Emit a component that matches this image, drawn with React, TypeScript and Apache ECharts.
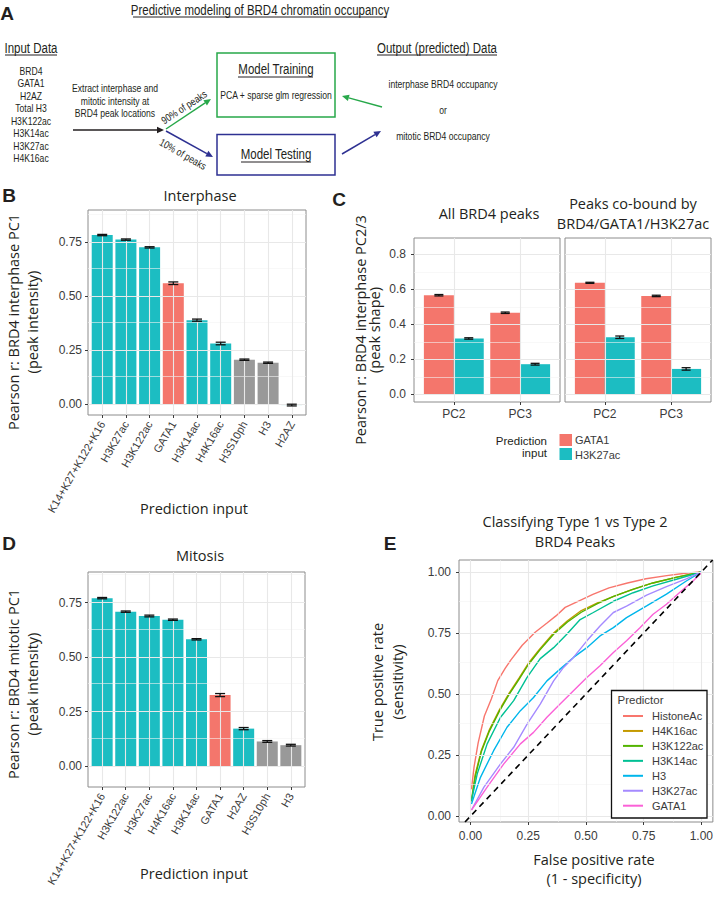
import React, { useEffect, useRef } from 'react';
import * as echarts from 'echarts';

// ---------------- Panel A (schematic) text ----------------
const inputDataList = ['BRD4', 'GATA1', 'H2AZ', 'Total H3', 'H3K122ac', 'H3K14ac', 'H3K27ac', 'H4K16ac'];
const extractLines = ['Extract interphase and', 'mitotic intensity at', 'BRD4 peak locations'];
const outputLines = ['interphase BRD4 occupancy', 'or', 'mitotic BRD4 occupancy'];

// ---------------- Panel B: interphase PC1 ----------------
const interphaseInputs = ['K14+K27+K122+K16', 'H3K27ac', 'H3K122ac', 'GATA1', 'H3K14ac', 'H4K16ac', 'H3S10ph', 'H3', 'H2AZ'];
const interphaseR = [0.782, 0.761, 0.725, 0.559, 0.388, 0.28, 0.205, 0.191, -0.005];
const interphaseErr = [0.003, 0.003, 0.003, 0.006, 0.005, 0.006, 0.003, 0.003, 0.004];
const interphaseClass = ['ac', 'ac', 'ac', 'tf', 'ac', 'ac', 'other', 'other', 'ac'];
const pc1Ticks = [0, 0.25, 0.5, 0.75];
const pc1Minor = [0.125, 0.375, 0.625, 0.875];

// ---------------- Panel C: PC2 / PC3 ----------------
const pcComponents = ['PC2', 'PC3'];
const allPeaksGATA1 = [0.566, 0.466];
const allPeaksGATA1Err = [0.004, 0.004];
const allPeaksH3K27ac = [0.319, 0.172];
const allPeaksH3K27acErr = [0.004, 0.005];
const coBoundGATA1 = [0.637, 0.562];
const coBoundGATA1Err = [0.003, 0.004];
const coBoundH3K27ac = [0.326, 0.145];
const coBoundH3K27acErr = [0.007, 0.007];
const pcTicks = [0, 0.2, 0.4, 0.6, 0.8];
const pcMinor = [0.1, 0.3, 0.5, 0.7];

// ---------------- Panel D: mitotic PC1 ----------------
const mitosisInputs = ['K14+K27+K122+K16', 'H3K122ac', 'H3K27ac', 'H4K16ac', 'H3K14ac', 'GATA1', 'H2AZ', 'H3S10ph', 'H3'];
const mitosisR = [0.771, 0.709, 0.689, 0.672, 0.582, 0.326, 0.172, 0.113, 0.096];
const mitosisErr = [0.003, 0.003, 0.004, 0.003, 0.003, 0.007, 0.005, 0.004, 0.004];
const mitosisClass = ['ac', 'ac', 'ac', 'ac', 'ac', 'tf', 'ac', 'other', 'other'];

// ---------------- Panel E: ROC curves ----------------
const rocHistoneAc = [[0.004, 0.11], [0.015, 0.2], [0.033, 0.3], [0.06, 0.41], [0.09, 0.48], [0.118, 0.555], [0.15, 0.605], [0.175, 0.64], [0.224, 0.7], [0.28, 0.753], [0.33, 0.79], [0.37, 0.82], [0.41, 0.855], [0.475, 0.884], [0.53, 0.908], [0.6, 0.935], [0.68, 0.955], [0.76, 0.972], [0.85, 0.985], [0.93, 0.995], [1, 1]];
const rocH4K16ac = [[0.004, 0.065], [0.02, 0.17], [0.047, 0.27], [0.08, 0.35], [0.125, 0.435], [0.168, 0.505], [0.21, 0.565], [0.25, 0.625], [0.3, 0.685], [0.36, 0.75], [0.42, 0.8], [0.48, 0.842], [0.55, 0.873], [0.62, 0.9], [0.7, 0.928], [0.79, 0.955], [0.89, 0.978], [1, 1]];
const rocH3K122ac = [[0.004, 0.06], [0.02, 0.16], [0.047, 0.265], [0.08, 0.345], [0.125, 0.43], [0.168, 0.5], [0.21, 0.56], [0.25, 0.62], [0.3, 0.68], [0.36, 0.745], [0.42, 0.795], [0.48, 0.835], [0.55, 0.87], [0.62, 0.9], [0.7, 0.928], [0.79, 0.955], [0.89, 0.978], [1, 1]];
const rocH3K14ac = [[0.004, 0.064], [0.029, 0.173], [0.072, 0.296], [0.13, 0.405], [0.187, 0.473], [0.245, 0.568], [0.302, 0.645], [0.36, 0.69], [0.417, 0.745], [0.475, 0.805], [0.532, 0.834], [0.619, 0.88], [0.705, 0.915], [0.791, 0.943], [0.892, 0.97], [1, 1]];
const rocH3 = [[0.004, 0.05], [0.043, 0.159], [0.1, 0.268], [0.158, 0.364], [0.216, 0.432], [0.273, 0.486], [0.331, 0.554], [0.388, 0.602], [0.446, 0.65], [0.504, 0.69], [0.561, 0.738], [0.619, 0.772], [0.676, 0.813], [0.763, 0.861], [0.849, 0.909], [0.935, 0.963], [1, 1]];
const rocH3K27ac = [[0.004, 0.025], [0.058, 0.119], [0.13, 0.214], [0.187, 0.282], [0.245, 0.377], [0.302, 0.459], [0.36, 0.554], [0.403, 0.609], [0.446, 0.65], [0.504, 0.718], [0.561, 0.779], [0.619, 0.834], [0.676, 0.86], [0.763, 0.905], [0.849, 0.94], [0.935, 0.972], [1, 1]];
const rocGATA1 = [[0.004, 0.025], [0.072, 0.119], [0.144, 0.214], [0.216, 0.296], [0.273, 0.343], [0.331, 0.405], [0.388, 0.459], [0.446, 0.514], [0.504, 0.568], [0.561, 0.616], [0.619, 0.67], [0.676, 0.718], [0.734, 0.772], [0.791, 0.827], [0.849, 0.868], [0.906, 0.916], [0.964, 0.963], [1, 0.997]];
const predictorNames = ['HistoneAc', 'H4K16ac', 'H3K122ac', 'H3K14ac', 'H3', 'H3K27ac', 'GATA1'];
const predictorCurves = [rocHistoneAc, rocH4K16ac, rocH3K122ac, rocH3K14ac, rocH3, rocH3K27ac, rocGATA1];
const predictorColors = ['#F8766D', '#C49A00', '#53B400', '#00C094', '#00B6EB', '#A58AFF', '#FB61D7'];
const rocTicks = [0, 0.25, 0.5, 0.75, 1];
const rocMinor = [0.125, 0.375, 0.625, 0.875];

// ---------------- styles ----------------
const TEAL = '#1CBDC2';
const RED = '#F4766C';
const GREY = '#999999';
const CLASS_COLOR: Record<string, string> = { ac: TEAL, tf: RED, other: GREY };
const GREEN = '#27A84A';
const BLUE = '#2E3192';
const INK = '#231F20';
const FONT_NARROW = '"Liberation Sans",Arial,sans-serif';
const NARROW = 0.82;
const FONT_TITLE = '"Open Sans",sans-serif';
const FONT_TICK = '"Liberation Sans",Arial,sans-serif';
const TICK_COLOR = '#3b3b3b';
const BORDER = '#8c8c8c';
const GRID_MAJOR = '#e8e8e8';
const GRID_MINOR = '#f3f3f3';

function txt(text: string, x: number, y: number, font: string, opts: any = {}) {
  return {
    type: 'text', x, y, rotation: opts.rotation || 0, scaleX: opts.scaleX || 1, z: 10,
    style: { text, font, fill: opts.fill || INK, align: opts.align || 'center', verticalAlign: opts.va || 'middle' },
  };
}
function ntxt(text: string, x: number, y: number, size: number, opts: any = {}) {
  return txt(text, x, y, `${size}px ${FONT_NARROW}`, { ...opts, scaleX: NARROW });
}
function uline(x1: number, x2: number, y: number) {
  return { type: 'line', shape: { x1, y1: y, x2, y2: y }, style: { stroke: INK, lineWidth: 1 } };
}
function arrow(x1: number, y1: number, x2: number, y2: number, color: string) {
  const ang = Math.atan2(y2 - y1, x2 - x1);
  const L = 7, W = 3.2;
  const bx = x2 - L * Math.cos(ang), by = y2 - L * Math.sin(ang);
  const px = -Math.sin(ang) * W, py = Math.cos(ang) * W;
  return [
    { type: 'line', shape: { x1, y1, x2: bx, y2: by }, style: { stroke: color, lineWidth: 1.5 } },
    { type: 'polygon', shape: { points: [[x2, y2], [bx + px, by + py], [bx - px, by - py]] }, style: { fill: color } },
  ];
}

function xCatAxis(gridIndex: number, names: string[], rotate: number, margin: number, fontSize: number) {
  const pos = names.map((_, i) => i + 1);
  return {
    type: 'value', gridIndex, min: 0.4, max: names.length + 0.6,
    axisLine: { show: false, onZero: false }, splitLine: { show: false },
    axisTick: { show: true, length: 3, customValues: pos, lineStyle: { color: TICK_COLOR } },
    axisLabel: {
      customValues: pos, formatter: (v: number) => names[Math.round(v) - 1] ?? '',
      rotate, margin, fontSize, color: TICK_COLOR, fontFamily: FONT_TICK,
    },
  };
}
function yValAxis(gridIndex: number, min: number, max: number, ticks: number[], dec: number, show: boolean, margin: number) {
  return {
    type: 'value', gridIndex, min, max,
    axisLine: { show: false, onZero: false }, splitLine: { show: false },
    axisTick: { show, length: 3, customValues: ticks, lineStyle: { color: TICK_COLOR } },
    axisLabel: { show, customValues: ticks, formatter: (v: number) => v.toFixed(dec), margin, fontSize: 12, color: TICK_COLOR, fontFamily: FONT_TICK },
  };
}
function xValAxis(gridIndex: number, min: number, max: number, ticks: number[], margin: number) {
  return {
    type: 'value', gridIndex, min, max,
    axisLine: { show: false, onZero: false }, splitLine: { show: false },
    axisTick: { show: true, length: 3, customValues: ticks, lineStyle: { color: TICK_COLOR } },
    axisLabel: { customValues: ticks, formatter: (v: number) => v.toFixed(2), margin, fontSize: 12, color: TICK_COLOR, fontFamily: FONT_TICK },
  };
}
function gridLines(idx: number, anchor: number[], xMajor: number[], yMajor: number[], yMinor: number[], xMinor: number[] = []) {
  const minor = { color: GRID_MINOR, width: 0.6, type: 'solid' };
  const major = { color: GRID_MAJOR, width: 1.1, type: 'solid' };
  return {
    type: 'line', xAxisIndex: idx, yAxisIndex: idx, data: [anchor], symbol: 'none', silent: true, z: 1,
    lineStyle: { opacity: 0 },
    markLine: {
      silent: true, symbol: ['none', 'none'], label: { show: false }, animation: false,
      data: [
        ...yMinor.map((v) => ({ yAxis: v, lineStyle: minor })),
        ...xMinor.map((v) => ({ xAxis: v, lineStyle: minor })),
        ...yMajor.map((v) => ({ yAxis: v, lineStyle: major })),
        ...xMajor.map((v) => ({ xAxis: v, lineStyle: major })),
      ],
    },
  };
}
function errorBars(idx: number, xs: number[], vals: number[], errs: number[], half: number) {
  return {
    type: 'custom', xAxisIndex: idx, yAxisIndex: idx, z: 5, silent: true,
    encode: { x: 0, y: [1, 2] },
    data: vals.map((v, i) => [xs[i], v - errs[i], v + errs[i]]),
    renderItem: (_p: any, api: any) => {
      const a = api.coord([api.value(0), api.value(1)]);
      const b = api.coord([api.value(0), api.value(2)]);
      const st = { stroke: '#111', lineWidth: 1.3 };
      return {
        type: 'group', children: [
          { type: 'line', shape: { x1: a[0], y1: a[1], x2: b[0], y2: b[1] }, style: st },
          { type: 'line', shape: { x1: a[0] - half, y1: a[1], x2: a[0] + half, y2: a[1] }, style: st },
          { type: 'line', shape: { x1: b[0] - half, y1: b[1], x2: b[0] + half, y2: b[1] }, style: st },
        ],
      };
    },
  };
}
function singleBars(idx: number, vals: number[], classes: string[], width: number) {
  return {
    type: 'bar', xAxisIndex: idx, yAxisIndex: idx, barWidth: width, z: 2,
    data: vals.map((v, i) => ({ value: [i + 1, v], itemStyle: { color: CLASS_COLOR[classes[i]] } })),
  };
}
function dodgeBars(idx: number, name: string, vals: number[], shift: number, color: string) {
  return {
    type: 'bar', name, xAxisIndex: idx, yAxisIndex: idx, barWidth: 30, barGap: '-100%', z: 2,
    itemStyle: { color },
    data: vals.map((v, i) => [i + 1 + shift, v]),
  };
}

export default function App() {
  const ref = useRef<HTMLDivElement>(null);
  useEffect(() => {
    if (!ref.current) return;
    const chart = echarts.init(ref.current, undefined, { renderer: 'svg' });
    const T = `14.5px ${FONT_TITLE}`;
    const G: any[] = [];
    // Panel A
    G.push(txt('A', 7, 13, `bold 19px ${FONT_TICK}`));
    G.push(ntxt('Predictive modeling of BRD4 chromatin occupancy', 260, 10, 14));
    G.push(uline(133, 387, 17));
    G.push(ntxt('Input Data', 31, 48, 14));
    G.push(uline(5, 57, 55));
    inputDataList.forEach((t, i) => G.push(ntxt(t, 31, 71 + i * 12.45, 10.5)));
    extractLines.forEach((t, i) => G.push(ntxt(t, 115, 88 + i * 12.8, 10.5)));
    G.push(...arrow(73, 130, 164, 130, INK));
    G.push(...arrow(166, 129, 211, 99, GREEN));
    G.push(...arrow(166, 131, 213, 157, BLUE));
    G.push(ntxt('90% of peaks', 184, 107, 10.5, { rotation: 0.576 }));
    G.push(ntxt('10% of peaks', 183, 154, 10.5, { rotation: -0.52 }));
    G.push({ type: 'rect', shape: { x: 217, y: 53, width: 118, height: 64 }, style: { fill: 'none', stroke: GREEN, lineWidth: 1.5 } });
    G.push(ntxt('Model Training', 276, 69, 14));
    G.push(uline(238, 313, 77));
    G.push(ntxt('PCA + sparse glm regression', 276, 95, 10.5));
    G.push({ type: 'rect', shape: { x: 217, y: 134.5, width: 118, height: 40.5 }, style: { fill: 'none', stroke: BLUE, lineWidth: 1.5 } });
    G.push(ntxt('Model Testing', 276, 154, 14));
    G.push(uline(241, 311, 162));
    G.push(...arrow(382, 107, 342, 96, GREEN));
    G.push(...arrow(342, 154, 381, 131, BLUE));
    G.push(ntxt('Output (predicted) Data', 437, 48, 14));
    G.push(uline(377, 497, 55));
    outputLines.forEach((t, i) => G.push(ntxt(t, 443, 84 + i * 26, 10.5)));
    // Panel letters
    G.push(txt('B', 9, 195, `bold 19px ${FONT_TICK}`));
    G.push(txt('C', 339, 199, `bold 19px ${FONT_TICK}`));
    G.push(txt('D', 9, 543, `bold 19px ${FONT_TICK}`));
    G.push(txt('E', 390, 543, `bold 19px ${FONT_TICK}`));
    // Panel B texts
    G.push(txt('Interphase', 200, 195, T));
    G.push(txt('Prediction input', 194, 508, T));
    G.push(txt('Pearson r: BRD4 interphase PC1', 13.5, 322, T, { rotation: Math.PI / 2 }));
    G.push(txt('(peak intensity)', 32, 322, T, { rotation: Math.PI / 2 }));
    // Panel C texts
    G.push(txt('All BRD4 peaks', 489, 213, T));
    G.push(txt('Peaks co-bound by', 633, 203, T));
    G.push(txt('BRD4/GATA1/H3K27ac', 633, 223, T));
    G.push(txt('Pearson r: BRD4 interphase PC2/3', 360, 330, T, { rotation: Math.PI / 2 }));
    G.push(txt('(peak shape)', 374, 330, T, { rotation: Math.PI / 2 }));
    G.push(txt('Prediction', 547, 440.5, `11.5px ${FONT_TICK}`, { align: 'right' }));
    G.push(txt('input', 547, 453, `11.5px ${FONT_TICK}`, { align: 'right' }));
    G.push({ type: 'rect', shape: { x: 559.5, y: 434, width: 12.5, height: 12 }, style: { fill: RED } });
    G.push({ type: 'rect', shape: { x: 559.5, y: 448, width: 12.5, height: 12 }, style: { fill: TEAL } });
    G.push(txt('GATA1', 575, 440, `11px ${FONT_TICK}`, { align: 'left', fill: TICK_COLOR }));
    G.push(txt('H3K27ac', 575, 455, `11px ${FONT_TICK}`, { align: 'left', fill: TICK_COLOR }));
    // Panel D texts
    G.push(txt('Mitosis', 200, 555, T));
    G.push(txt('Prediction input', 194, 873, T));
    G.push(txt('Pearson r: BRD4 mitotic PC1', 13.5, 684, T, { rotation: Math.PI / 2 }));
    G.push(txt('(peak intensity)', 32, 684, T, { rotation: Math.PI / 2 }));
    // Panel E texts
    G.push(txt('Classifying Type 1 vs Type 2', 575, 521, T));
    G.push(txt('BRD4 Peaks', 575, 541, T));
    G.push(txt('False positive rate', 594, 859, T));
    G.push(txt('(1 - specificity)', 594, 878, T));
    G.push(txt('True positive rate', 377, 682, T, { rotation: Math.PI / 2 }));
    G.push(txt('(sensitivity)', 397, 682, T, { rotation: Math.PI / 2 }));
    G.push({ type: 'rect', z: 9, shape: { x: 611.5, y: 690.5, width: 95.5, height: 127.5 }, style: { fill: '#fff', stroke: '#111', lineWidth: 1.3 } });
    G.push(txt('Predictor', 617.5, 700, `11.5px ${FONT_TICK}`, { align: 'left', fill: TICK_COLOR }));
    predictorNames.forEach((n, i) => {
      const y = 716 + i * 14.95;
      G.push({ type: 'line', z: 10, shape: { x1: 623, y1: y, x2: 643, y2: y }, style: { stroke: predictorColors[i], lineWidth: 2 } });
      G.push(txt(n, 652, y, `11px ${FONT_TICK}`, { align: 'left', fill: TICK_COLOR }));
    });

    const grids = [
      { left: 88, top: 210, width: 218, height: 205 },
      { left: 414, top: 238, width: 146, height: 164 },
      { left: 565, top: 238, width: 146, height: 164 },
      { left: 88, top: 572, width: 217, height: 215 },
      { left: 459, top: 560, width: 254, height: 262 },
    ].map((g) => ({ ...g, show: true, borderColor: BORDER, borderWidth: 1, backgroundColor: '#fff' }));

    const interPos = interphaseInputs.map((_, i) => i + 1);
    const mitoPos = mitosisInputs.map((_, i) => i + 1);
    const pcPos = pcComponents.map((_, i) => i + 1);
    const left = pcPos.map((p) => p - 0.225);
    const right = pcPos.map((p) => p + 0.225);

    const series: any[] = [
      // B
      gridLines(0, [1, 0], interPos, pc1Ticks, pc1Minor),
      singleBars(0, interphaseR, interphaseClass, 21),
      errorBars(0, interPos, interphaseR, interphaseErr, 5),
      // C all peaks
      gridLines(1, [1, 0], pcPos, pcTicks, pcMinor),
      dodgeBars(1, 'GATA1', allPeaksGATA1, -0.225, RED),
      dodgeBars(1, 'H3K27ac', allPeaksH3K27ac, 0.225, TEAL),
      errorBars(1, left, allPeaksGATA1, allPeaksGATA1Err, 4.5),
      errorBars(1, right, allPeaksH3K27ac, allPeaksH3K27acErr, 4.5),
      // C co-bound
      gridLines(2, [1, 0], pcPos, pcTicks, pcMinor),
      dodgeBars(2, 'GATA1', coBoundGATA1, -0.225, RED),
      dodgeBars(2, 'H3K27ac', coBoundH3K27ac, 0.225, TEAL),
      errorBars(2, left, coBoundGATA1, coBoundGATA1Err, 4.5),
      errorBars(2, right, coBoundH3K27ac, coBoundH3K27acErr, 4.5),
      // D
      gridLines(3, [1, 0], mitoPos, pc1Ticks, pc1Minor),
      singleBars(3, mitosisR, mitosisClass, 21),
      errorBars(3, mitoPos, mitosisR, mitosisErr, 5),
      // E
      gridLines(4, [0, 0], rocTicks, rocTicks, rocMinor, rocMinor),
      ...predictorCurves.map((c, i) => ({
        type: 'line', name: predictorNames[i], xAxisIndex: 4, yAxisIndex: 4, data: c,
        symbol: 'none', z: 3, lineStyle: { color: predictorColors[i], width: 1.4 },
      })),
      {
        type: 'line', xAxisIndex: 4, yAxisIndex: 4, data: [[-0.024, -0.024], [1.049, 1.049]],
        symbol: 'none', z: 4, lineStyle: { color: '#000', width: 1.6, type: [6, 4.5] },
      },
    ];

    chart.setOption({
      animation: false,
      backgroundColor: '#fff',
      grid: grids,
      xAxis: [
        xCatAxis(0, interphaseInputs, 60, 7, 11),
        xCatAxis(1, pcComponents, 0, 6, 12),
        xCatAxis(2, pcComponents, 0, 6, 12),
        xCatAxis(3, mitosisInputs, 60, 7, 11),
        xValAxis(4, -0.05, 1.05, rocTicks, 8),
      ],
      yAxis: [
        yValAxis(0, -0.051, 0.898, pc1Ticks, 2, true, 6),
        yValAxis(1, -0.044, 0.893, pcTicks, 1, true, 8),
        yValAxis(2, -0.044, 0.893, pcTicks, 1, false, 8),
        yValAxis(3, -0.096, 0.891, pc1Ticks, 2, true, 6),
        yValAxis(4, -0.024, 1.049, rocTicks, 2, true, 8),
      ],
      series,
      graphic: { elements: G },
    });
    return () => chart.dispose();
  }, []);
  return <div ref={ref} style={{ position: 'absolute', left: 0, top: 0, width: 716, height: 900 }} />;
}
